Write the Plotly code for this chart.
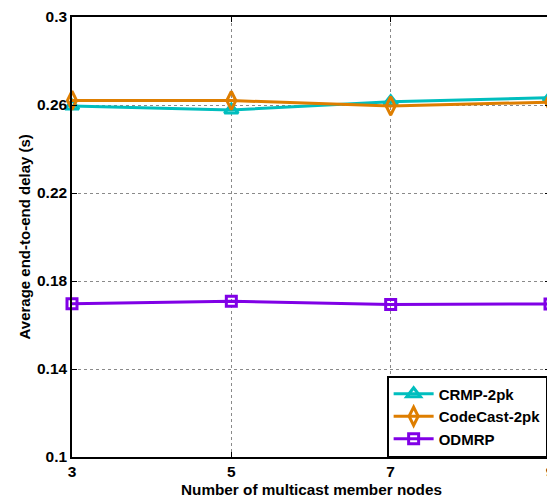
import plotly.graph_objects as go

x_nodes = [3, 5, 7, 9]
crmp_2pk = [0.2595, 0.2577, 0.2615, 0.2633]
codecast_2pk = [0.2621, 0.2620, 0.2596, 0.2613]
odmrp = [0.1697, 0.1708, 0.1693, 0.1696]

y_ticks = [0.1, 0.14, 0.18, 0.22, 0.26, 0.3]
y_tick_text = ["0.1", "0.14", "0.18", "0.22", "0.26", "0.3"]
x_ticks = [3, 5, 7, 9]

FONT = "Liberation Sans"

fig = go.Figure()
series = [
    ("CRMP-2pk", crmp_2pk, "#00BEBE", "triangle-up-open", 12),
    ("CodeCast-2pk", codecast_2pk, "#DE7E00", "diamond-tall-open", 13),
    ("ODMRP", odmrp, "#8000E6", "square-open", 10),
]
for name, ys, color, sym, ms in series:
    fig.add_trace(go.Scatter(
        x=x_nodes, y=ys, name=name, mode="lines+markers",
        line=dict(color=color, width=3),
        marker=dict(symbol=sym, size=ms, color=color, line=dict(color=color, width=3)),
        cliponaxis=False,
    ))

axis_common = dict(
    showline=True, linecolor="black", linewidth=1.5, mirror="ticks",
    ticks="inside", ticklen=5, tickcolor="black", tickwidth=1,
    showgrid=True, gridcolor="#8a8a8a", griddash="dot", gridwidth=1,
    zeroline=False, ticklabeloverflow="allow",
    tickfont=dict(family=FONT, size=15.5, color="black", weight="bold"),
)

fig.update_layout(
    width=547, height=491,
    margin=dict(l=64, r=0, t=5, b=42),
    paper_bgcolor="white", plot_bgcolor="white",
    showlegend=True,
    legend=dict(
        x=0.994, y=0.0, xanchor="right", yanchor="bottom",
        bordercolor="black", borderwidth=1.5, bgcolor="white",
        font=dict(family=FONT, size=15, color="black", weight="bold"),
        tracegroupgap=0, itemwidth=40,
    ),
    xaxis=dict(axis_common, range=[3, 9], tickvals=x_ticks),
    yaxis=dict(axis_common, range=[0.1, 0.3], tickvals=y_ticks, ticktext=y_tick_text),
    annotations=[
        dict(text="Number of multicast member nodes", xref="paper", yref="paper",
             x=0.5, y=-0.0743, xanchor="center", yanchor="middle", showarrow=False,
             font=dict(family=FONT, size=15.3, color="black", weight="bold")),
        dict(text="Average end-to-end delay (s)", xref="paper", yref="paper",
             x=-0.0994, y=0.5, xanchor="center", yanchor="middle", showarrow=False,
             textangle=-90,
             font=dict(family=FONT, size=15, color="black", weight="bold")),
    ],
)

fig.write_html("out.html")
